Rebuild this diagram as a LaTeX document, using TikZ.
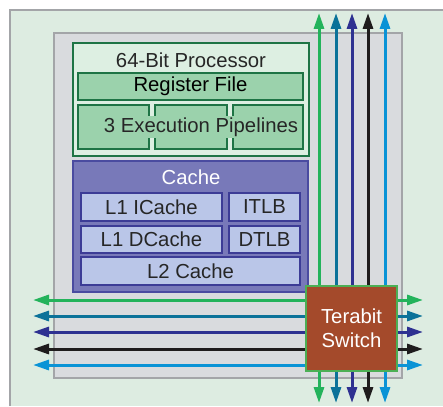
\documentclass[tikz,border=0pt]{standalone}
\usepackage{fontspec}
\setmainfont{Liberation Sans}
\usetikzlibrary{arrows.meta}
\definecolor{bgout}{HTML}{DDECE1}
\definecolor{chipgray}{HTML}{D9DBDE}
\definecolor{chipline}{HTML}{A3A5A8}
\definecolor{procfill}{HTML}{DDEFE2}
\definecolor{procline}{HTML}{1E7445}
\definecolor{regfill}{HTML}{9BD2AC}
\definecolor{cachefill}{HTML}{7879B9}
\definecolor{cacheline}{HTML}{4A4BA0}
\definecolor{l1fill}{HTML}{BAC6E8}
\definecolor{l1line}{HTML}{3C3C96}
\definecolor{swfill}{HTML}{A44A2B}
\definecolor{swline}{HTML}{4CAF55}
\definecolor{cgreen}{HTML}{23B35B}
\definecolor{cteal}{HTML}{0B7299}
\definecolor{cdblue}{HTML}{2E3191}
\definecolor{cblack}{HTML}{1F1C1D}
\definecolor{cblue}{HTML}{0A93D6}
\tikzset{
  boxbase/.style={anchor=north west, inner sep=0pt, outer sep=0pt, align=center},
  chipbox/.style={boxbase, fill=chipgray, draw=chipline, line width=1.5pt},
  procbox/.style={boxbase, fill=procfill, draw=procline, line width=1.8pt},
  regbox/.style={boxbase, fill=regfill, draw=procline, line width=1.6pt},
  cachebox/.style={boxbase, fill=cachefill, draw=cacheline, line width=1.6pt},
  l1box/.style={boxbase, fill=l1fill, draw=l1line, line width=1.6pt, text=black!85},
  swbox/.style={boxbase, fill=swfill, draw=swline, line width=1.6pt, text=white},
  bus/.style={line width=3pt, {Triangle[width=10pt,length=16pt]}-{Triangle[width=10pt,length=16pt]}},
  title/.style={inner sep=0pt, text=black!85},
}
\begin{document}
\begin{tikzpicture}[x=1pt,y=-1pt, font=\fontsize{20.3}{24}\selectfont]
\useasboundingbox (0,0) rectangle (443,406);
\fill[white] (0,0) rectangle (443,406);
\fill[bgout] (10,10) rectangle (443,406);
\draw[chipline, line width=1.5pt] (10,406) -- (10,10) -- (443,10);

% chip
\node[chipbox, minimum width=348pt, minimum height=345pt] (chip) at (54,33) {};

% buses
\foreach \x/\c [count=\i] in {319/cgreen,336/cteal,352/cdblue,368/cblack,385/cblue}{
  \coordinate (vt\i) at (\x,13);
  \coordinate (vb\i) at (\x,403);
  \draw[bus, \c] (vt\i) -- (vb\i);
}
\foreach \y/\c [count=\i] in {300/cgreen,316/cteal,332/cdblue,349/cblack,365/cblue}{
  \coordinate (hl\i) at (33,\y);
  \coordinate (hr\i) at (423,\y);
  \draw[bus, \c] (hl\i) -- (hr\i);
}

% processor
\node[procbox, minimum width=236pt, minimum height=113pt] (proc) at (73,43) {};
\node[title] (proct) at (191,60) {64-Bit Processor};
\node[regbox, minimum width=225pt, minimum height=27pt] (reg) at (78,73) {Register File};
\node[regbox, minimum width=71pt, minimum height=44pt] (p1) at (78,105) {};
\node[regbox, minimum width=72pt, minimum height=44pt] (p2) at (155,105) {};
\node[regbox, minimum width=70pt, minimum height=44pt] (p3) at (233,105) {};
\node[title, fill=regfill, inner xsep=1pt, inner ysep=2pt] (pipet) at (201,127) {3 Execution Pipelines};

% cache
\node[cachebox, minimum width=235pt, minimum height=131pt] (cache) at (73,161) {};
\node[title, text=white] (cachet) at (191,177) {Cache};
\node[l1box, minimum width=141pt, minimum height=28pt] (l1i) at (81,193) {L1 ICache};
\node[l1box, minimum width=71pt, minimum height=28pt] (itlb) at (229,193) {ITLB};
\node[l1box, minimum width=141pt, minimum height=27pt] (l1d) at (81,226) {L1 DCache};
\node[l1box, minimum width=71pt, minimum height=27pt] (dtlb) at (229,226) {DTLB};
\node[l1box, minimum width=219pt, minimum height=28pt] (l2) at (81,257) {L2 Cache};

% switch
\node[swbox, minimum width=91pt, minimum height=85pt] (sw) at (306,286) {Terabit\\Switch};
\end{tikzpicture}
\end{document}
